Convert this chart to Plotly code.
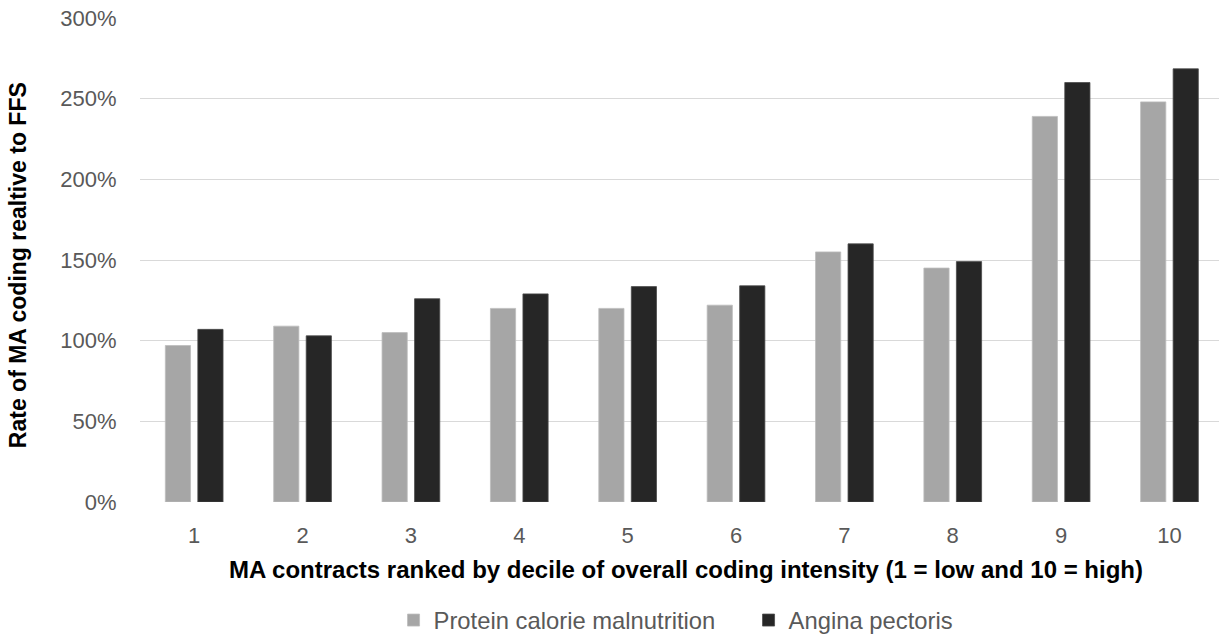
import plotly.graph_objects as go

# Deciles of overall MA coding intensity (1 = low, 10 = high)
deciles = ["1", "2", "3", "4", "5", "6", "7", "8", "9", "10"]

# Rate of MA coding relative to FFS (1.0 = 100%)
protein_calorie_malnutrition = [0.97, 1.09, 1.05, 1.20, 1.20, 1.22, 1.55, 1.45, 2.39, 2.48]
angina_pectoris = [1.07, 1.03, 1.26, 1.29, 1.335, 1.34, 1.60, 1.49, 2.60, 2.685]

y_ticks = [0, 0.5, 1.0, 1.5, 2.0, 2.5, 3.0]

FONT = "Liberation Sans, Arial, sans-serif"
TICK_COLOR = "#595959"

fig = go.Figure()
fig.add_trace(go.Bar(
    x=deciles, y=protein_calorie_malnutrition,
    name="Protein calorie malnutrition",
    marker=dict(color="#A6A6A6", line=dict(color="#BDBDBD", width=0.8)),
))
fig.add_trace(go.Bar(
    x=deciles, y=angina_pectoris,
    name="Angina pectoris",
    marker=dict(color="#262626", line=dict(color="#4a4a4a", width=0.8)),
))

fig.update_layout(
    width=1219, height=635,
    margin=dict(l=139.7, r=0, t=17.5, b=132.5, autoexpand=False),
    paper_bgcolor="white", plot_bgcolor="white",
    barmode="group", bargap=0.4, bargroupgap=0.225,
    font=dict(family=FONT, size=22, color=TICK_COLOR),
    showlegend=True,
    legend=dict(
        orientation="h", x=0.564, xanchor="center", y=-0.244, yanchor="middle",
        font=dict(family=FONT, size=23.8, color=TICK_COLOR),
        itemwidth=30, traceorder="normal",
        entrywidth=310, entrywidthmode="pixels",
    ),
    xaxis=dict(
        type="category", range=[-0.5, 9.457],
        showgrid=False, zeroline=False, showline=False,
        ticks="outside", ticklen=14, tickcolor="rgba(0,0,0,0)",
        tickfont=dict(family=FONT, size=22, color=TICK_COLOR),
    ),
    yaxis=dict(
        range=[0, 3.0], tickvals=y_ticks, tickformat=".0%",
        showgrid=True, gridcolor="#D9D9D9", gridwidth=1.3,
        zeroline=False, showline=False,
        ticks="outside", ticklen=18, tickcolor="rgba(0,0,0,0)",
        tickfont=dict(family=FONT, size=22, color=TICK_COLOR),
    ),
    annotations=[
        dict(
            text="<b>Rate of MA coding realtive to FFS</b>",
            xref="paper", yref="paper", x=-0.1128, y=0.49,
            xanchor="center", yanchor="middle", textangle=-90, showarrow=False,
            font=dict(family=FONT, size=23, color="#000000"),
        ),
        dict(
            text="<b>MA contracts ranked by decile of overall coding intensity (1 = low and 10 = high)</b>",
            xref="paper", yref="paper", x=0.506, y=-0.139,
            xanchor="center", yanchor="middle", showarrow=False,
            font=dict(family=FONT, size=24, color="#000000"),
        ),
    ],
)

fig.write_html("out.html")
